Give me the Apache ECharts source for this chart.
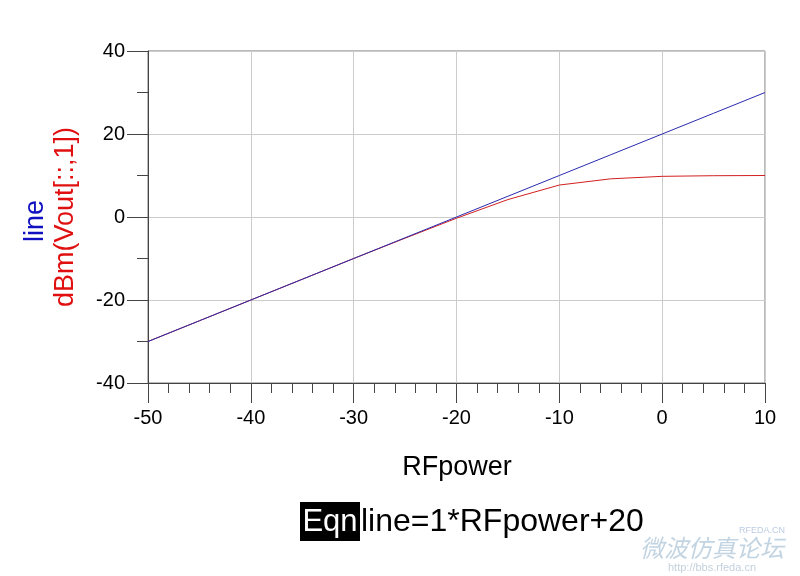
<!DOCTYPE html>
<html><head><meta charset="utf-8">
<script src="https://cdn.jsdelivr.net/npm/echarts@6/dist/echarts.min.js"></script>
<style>html,body{margin:0;padding:0;background:#fff}#c{width:800px;height:576px}</style>
</head><body><div id="c"></div>
<script>
var rfPower = [-50,-45,-40,-35,-30,-25,-20,-15,-10,-5,0,5,10];
var lineVals = [-30,-25,-20,-15,-10,-5,0,5,10,15,20,25,30];
var voutDbm = [-30,-25,-20,-15,-10,-5.1,-0.3,4.2,7.7,9.2,9.8,9.95,10];
var xTicks = [-50,-40,-30,-20,-10,0,10];
var yTicks = [-40,-20,0,20,40];

var chart = echarts.init(document.getElementById('c'));
var font = 'Liberation Sans, Arial, sans-serif';
chart.setOption({
  animation:false,
  backgroundColor:'#fff',
  grid:{left:148,right:35,top:51,bottom:193,show:true,borderColor:'#777',borderWidth:1},
  xAxis:{type:'value',min:xTicks[0],max:xTicks[xTicks.length-1],interval:10,
    axisLine:{onZero:false,lineStyle:{color:'#444',width:1}},
    axisTick:{length:20,lineStyle:{color:'#444'}},
    minorTick:{show:true,splitNumber:5,length:10,lineStyle:{color:'#444'}},
    splitLine:{show:true,lineStyle:{color:'#ccc'}},
    axisLabel:{color:'#000',fontSize:20,fontFamily:font,margin:25}},
  yAxis:{type:'value',min:yTicks[0],max:yTicks[yTicks.length-1],interval:20,
    axisLine:{onZero:false,lineStyle:{color:'#444',width:1}},
    axisTick:{length:21,lineStyle:{color:'#444'}},
    minorTick:{show:true,splitNumber:2,length:11,lineStyle:{color:'#444'}},
    splitLine:{show:true,lineStyle:{color:'#ccc'}},
    axisLabel:{color:'#000',fontSize:20,fontFamily:font,margin:23}},
  series:[
    {type:'line',data:rfPower.map(function(x,i){return [x,voutDbm[i]];}),showSymbol:false,
     lineStyle:{color:'#d22020',width:1},z:3},
    {type:'line',data:rfPower.map(function(x,i){return [x,lineVals[i]];}),showSymbol:false,
     lineStyle:{color:'#2a2ab0',width:1},z:4}
  ],
  graphic:[
    {type:'text',x:457,y:468,style:{text:'RFpower',fill:'#000',font:'27px '+font,textAlign:'center',textVerticalAlign:'middle'}},
    {type:'text',x:36,y:221,rotation:Math.PI/2,style:{text:'line',fill:'#1010c0',font:'27px '+font,textAlign:'center',textVerticalAlign:'middle'}},
    {type:'text',x:66,y:217,rotation:Math.PI/2,style:{text:'dBm(Vout[::,1])',fill:'#e01010',font:'27px '+font,textAlign:'center',textVerticalAlign:'middle'}},
    {type:'rect',shape:{x:300,y:502,width:60,height:39},style:{fill:'#000'}},
    {type:'text',x:330,y:522,style:{text:'Eqn',fill:'#fff',font:'31px '+font,textAlign:'center',textVerticalAlign:'middle'}},
    {type:'text',x:361,y:522,style:{text:'line=1*RFpower+20',fill:'#000',font:'32px '+font,textAlign:'left',textVerticalAlign:'middle'}},
    {type:'text',x:712,y:548,style:{text:'微波仿真论坛',fill:'rgba(120,160,190,0.45)',font:'italic 24px Noto Sans CJK SC',textAlign:'center',textVerticalAlign:'middle'}},
    {type:'text',x:712,y:568,style:{text:'http://bbs.rfeda.cn',fill:'rgba(120,150,180,0.45)',font:'11px '+font,textAlign:'center',textVerticalAlign:'middle'}},
    {type:'text',x:762,y:531,style:{text:'RFEDA.CN',fill:'rgba(120,150,200,0.5)',font:'9px '+font,textAlign:'center',textVerticalAlign:'middle'}}
  ]
});
</script></body></html>
